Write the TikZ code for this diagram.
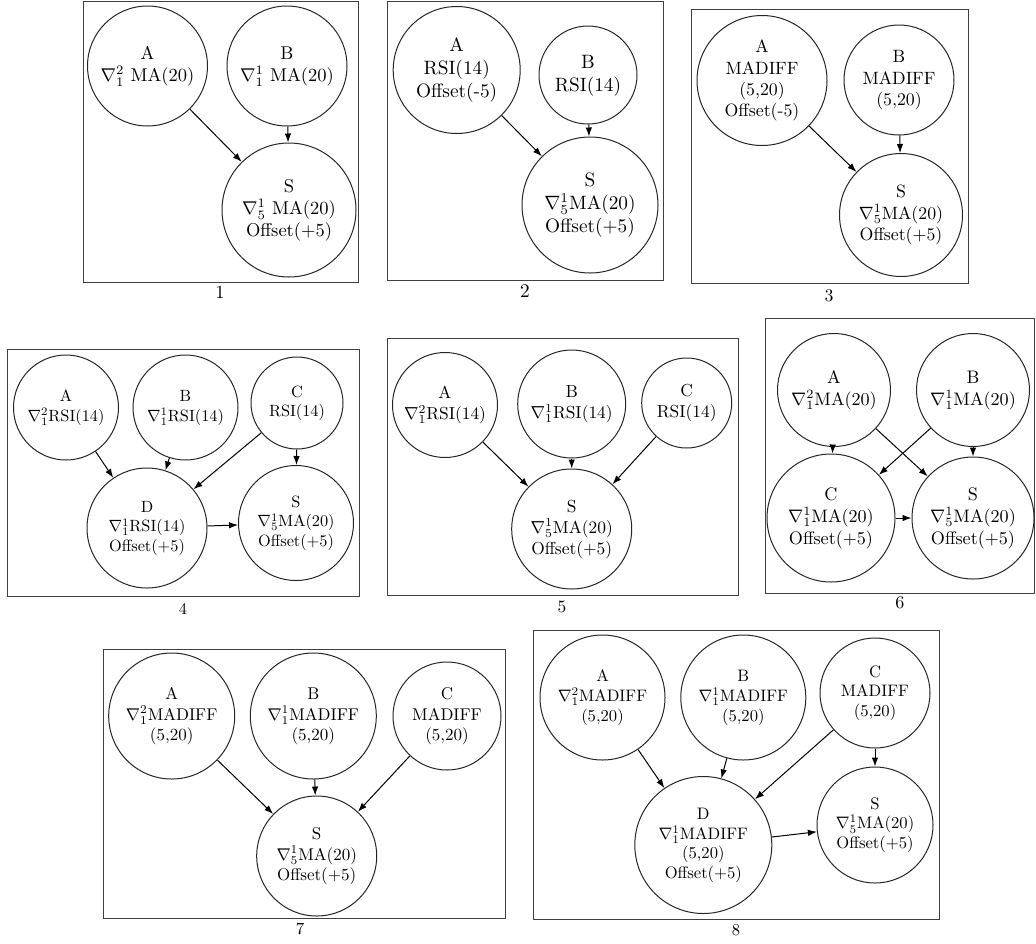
\documentclass[tikz,border=0pt]{standalone}
\usepackage{graphicx}
\usetikzlibrary{arrows.meta}
\newcommand{\myscale}{1.8}
\newcommand{\sx}[1]{\scalebox{\myscale}{\begin{tabular}{@{}c@{}}#1\end{tabular}}}
\begin{document}
\begin{tikzpicture}[x=1pt,y=-1pt,
  nd/.style={draw=black!85, circle, inner sep=0pt, align=center, line width=1pt, minimum size=#1},
  arr/.style={-{Latex[length=9pt,width=6.5pt]}, line width=1pt, draw=black},
  frm/.style={draw=black!75, line width=0.9pt}]
\useasboundingbox (0,0) rectangle (1036,943);

% ---------- Panel 1 ----------
\begin{scope}
\renewcommand{\myscale}{1.85}
\draw[frm] (83,1) rectangle (358,282);
\node (l1) at (220,294) {\sx{1}};
\node[nd=120pt] (a1) at (147.5,66) {\sx{A\\$\nabla_1^2$ MA(20)}};
\node[nd=120pt] (b1) at (287,66) {\sx{B\\$\nabla_1^1$ MA(20)}};
\node[nd=134pt] (s1) at (289,210) {\sx{S\\$\nabla_5^1$ MA(20)\\Offset(+5)}};
\draw[arr] (a1) -- (s1);
\draw[arr] (b1) -- (s1);
\end{scope}

% ---------- Panel 2 ----------
\begin{scope}
\renewcommand{\myscale}{1.93}
\draw[frm] (387,1) rectangle (663,280);
\node (l2) at (525,293) {\sx{2}};
\node[nd=127pt] (a2) at (456.7,70) {\sx{A\\RSI(14)\\Offset(-5)}};
\node[nd=98pt] (b2) at (588,75) {\sx{B\\RSI(14)}};
\node[nd=136pt] (s2) at (590,205) {\sx{S\\$\nabla_5^1$MA(20)\\Offset(+5)}};
\draw[arr] (a2) -- (s2);
\draw[arr] (b2) -- (s2);
\end{scope}

% ---------- Panel 3 ----------
\begin{scope}
\renewcommand{\myscale}{1.78}
\draw[frm] (691,9) rectangle (968,283);
\node (l3) at (829,297) {\sx{3}};
\node[nd=130pt] (a3) at (762,80.5) {\sx{A\\MADIFF\\(5,20)\\Offset(-5)}};
\node[nd=110pt] (b3) at (899,80) {\sx{B\\MADIFF\\(5,20)}};
\node[nd=123pt] (s3) at (901,215) {\sx{S\\$\nabla_5^1$MA(20)\\Offset(+5)}};
\draw[arr] (a3) -- (s3);
\draw[arr] (b3) -- (s3);
\end{scope}

% ---------- Panel 4 ----------
\begin{scope}
\renewcommand{\myscale}{1.63}
\draw[frm] (7,349) rectangle (359,596);
\node (l4) at (183,611) {\sx{4}};
\node[nd=105pt] (a4) at (66,407.5) {\sx{A\\$\nabla_1^2$RSI(14)}};
\node[nd=105pt] (b4) at (185.5,407.5) {\sx{B\\$\nabla_1^1$RSI(14)}};
\node[nd=92pt] (c4) at (297,403) {\sx{C\\RSI(14)}};
\node[nd=120pt] (d4) at (147,528) {\sx{D\\$\nabla_1^1$RSI(14)\\Offset(+5)}};
\node[nd=115pt] (s4) at (296,523) {\sx{S\\$\nabla_5^1$MA(20)\\Offset(+5)}};
\draw[arr] (a4) -- (d4);
\draw[arr] (b4) -- (d4);
\draw[arr] (c4) -- (d4);
\draw[arr] (c4) -- (s4);
\draw[arr] (d4) -- (s4);
\end{scope}

% ---------- Panel 5 ----------
\begin{scope}
\renewcommand{\myscale}{1.74}
\draw[frm] (387,338) rectangle (738,595);
\node (l5) at (562,608) {\sx{5}};
\node[nd=105pt] (a5) at (445,405) {\sx{A\\$\nabla_1^2$RSI(14)}};
\node[nd=108pt] (b5) at (571.7,404) {\sx{B\\$\nabla_1^1$RSI(14)}};
\node[nd=90pt] (c5) at (686.7,403) {\sx{C\\RSI(14)}};
\node[nd=120pt] (s5) at (571.7,529) {\sx{S\\$\nabla_5^1$MA(20)\\Offset(+5)}};
\draw[arr] (a5) -- (s5);
\draw[arr] (b5) -- (s5);
\draw[arr] (c5) -- (s5);
\end{scope}

% ---------- Panel 6 ----------
\begin{scope}
\renewcommand{\myscale}{1.81}
\draw[frm] (765,318) rectangle (1034.5,593);
\node (l6) at (900,604) {\sx{6}};
\node[nd=113pt] (a6) at (834,390) {\sx{A\\$\nabla_1^2$MA(20)}};
\node[nd=113pt] (b6) at (973,390) {\sx{B\\$\nabla_1^1$MA(20)}};
\node[nd=128pt] (c6) at (831,518) {\sx{C\\$\nabla_1^1$MA(20)\\Offset(+5)}};
\node[nd=122pt] (s6) at (973,518) {\sx{S\\$\nabla_5^1$MA(20)\\Offset(+5)}};
\draw[arr] (a6) -- (c6);
\draw[arr] (a6) -- (s6);
\draw[arr] (b6) -- (c6);
\draw[arr] (b6) -- (s6);
\draw[arr] (c6) -- (s6);
\end{scope}

% ---------- Panel 7 ----------
\begin{scope}
\renewcommand{\myscale}{1.70}
\draw[frm] (103,649) rectangle (505,918);
\node (l7) at (300,930) {\sx{7}};
\node[nd=126pt] (a7) at (171.7,716) {\sx{A\\$\nabla_1^2$MADIFF\\(5,20)}};
\node[nd=126pt] (b7) at (313.3,716) {\sx{B\\$\nabla_1^1$MADIFF\\(5,20)}};
\node[nd=108pt] (c7) at (447,716) {\sx{C\\MADIFF\\(5,20)}};
\node[nd=120pt] (s7) at (316.7,856) {\sx{S\\$\nabla_5^1$MA(20)\\Offset(+5)}};
\draw[arr] (a7) -- (s7);
\draw[arr] (b7) -- (s7);
\draw[arr] (c7) -- (s7);
\end{scope}

% ---------- Panel 8 ----------
\begin{scope}
\renewcommand{\myscale}{1.66}
\draw[frm] (533,630) rectangle (939,919);
\node (l8) at (736,932) {\sx{8}};
\node[nd=125pt] (a8) at (602.5,697.5) {\sx{A\\$\nabla_1^2$MADIFF\\(5,20)}};
\node[nd=125pt] (b8) at (743.3,697.5) {\sx{B\\$\nabla_1^1$MADIFF\\(5,20)}};
\node[nd=110pt] (c8) at (875,693) {\sx{C\\MADIFF\\(5,20)}};
\node[nd=137pt] (d8) at (703.3,845) {\sx{D\\$\nabla_1^1$MADIFF\\(5,20)\\Offset(+5)}};
\node[nd=116pt] (s8) at (875,825) {\sx{S\\$\nabla_5^1$MA(20)\\Offset(+5)}};
\draw[arr] (a8) -- (d8);
\draw[arr] (b8) -- (d8);
\draw[arr] (c8) -- (d8);
\draw[arr] (c8) -- (s8);
\draw[arr] (d8) -- (s8);
\end{scope}
\end{tikzpicture}
\end{document}
